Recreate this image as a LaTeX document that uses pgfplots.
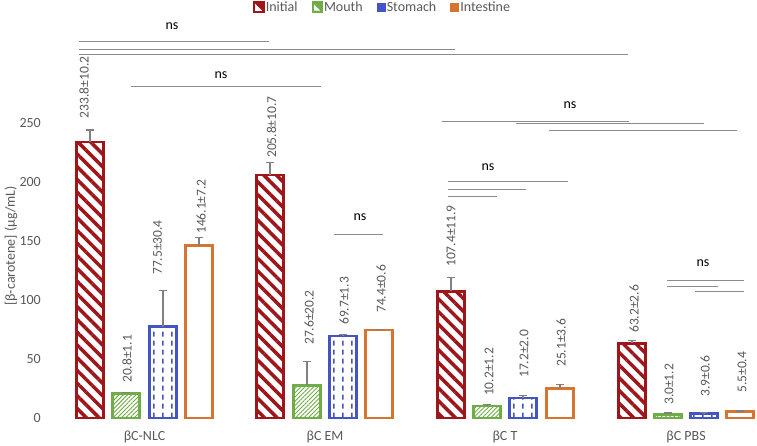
\documentclass[border=0pt]{standalone}
\usepackage{pgfplots}
\pgfplotsset{compat=1.18}
\usepackage{fontspec}
\setmainfont{Carlito}
\usetikzlibrary{patterns.meta}
\definecolor{initc}{RGB}{158,22,26}
\definecolor{mouthc}{RGB}{112,173,71}
\definecolor{stomc}{RGB}{68,84,196}
\definecolor{intc}{RGB}{214,116,48}
\definecolor{textgray}{RGB}{89,89,89}
\definecolor{linegray}{RGB}{128,128,128}
\definecolor{siggray}{RGB}{140,140,140}
\pgfdeclarepattern{
  name=vdash,
  type=uncolored,
  bottom left={\pgfpoint{0pt}{0pt}},
  top right={\pgfpoint{9pt}{9pt}},
  tile size={\pgfpoint{9pt}{9pt}},
  code={
    \pgfsetlinewidth{1.7pt}
    \pgfpathmoveto{\pgfpoint{1pt}{1.5pt}}
    \pgfpathlineto{\pgfpoint{1pt}{7pt}}
    \pgfusepath{stroke}
  }
}
\tikzset{
  sig/.style={draw=siggray, line width=0.9pt},
  vlab/.style={rotate=90, anchor=west, inner sep=0pt, font=\fontsize{13.5}{15}\selectfont, text=textgray},
  nslab/.style={inner sep=0pt, font=\fontsize{14}{16}\selectfont, text=black},
}
\pgfplotsset{
  errstyle/.style={
    error bars/.cd, y dir=plus, y explicit,
    error bar style={line width=1.2pt, color=linegray},
    error mark options={rotate=90, mark size=4pt, line width=1.2pt, color=linegray},
  },
}
\begin{document}
\begin{tikzpicture}
\begin{axis}[
  at={(45pt,28pt)}, anchor=south west,
  scale only axis, width=712pt, height=418pt,
  xmin=45, xmax=757, ymin=0, ymax=354.24,
  clip=false,
  axis line style={draw=none},
  major tick length=0pt,
  ytick={0,50,100,150,200,250},
  xtick={144.5,325,505,686},
  xticklabels={βC-NLC, βC EM, βC T, βC PBS},
  tick label style={font=\fontsize{14}{16}\selectfont, text=textgray},
  /pgf/number format/assume math mode=true,
  yticklabel style={anchor=east, inner sep=0pt, xshift=-4pt},
  xticklabel style={anchor=center, inner sep=0pt, yshift=-19pt},
  legend columns=4,
  legend style={draw=none, fill=none, inner sep=0pt, at={(axis cs:253,348.3)}, anchor=west,
    font=\fontsize{14}{16}\selectfont, text=textgray,
    nodes={inner sep=1pt},
    /tikz/every even column/.append style={column sep=13pt}},
]
\addplot[ybar, bar width=27pt, bar shift=0pt, draw=initc, line width=2.6pt,
  pattern={Lines[angle=-45,distance=9pt,line width=3.5pt]}, pattern color=initc,
  legend image code/.code={
    \fill[initc] (0pt,-4.5pt) rectangle (9pt,4.5pt);
    \fill[white] (2pt,-2.5pt) -- (4.5pt,-2.5pt) -- (2pt,0pt) -- cycle;},
  errstyle]
table[x=x, y=y, y error=e] {
x y e
90 233.8 10.2
270 205.8 10.7
451 107.4 11.9
632 63.2 2.6
};
\addlegendentry{Initial}
\addplot[ybar, bar width=27pt, bar shift=0pt, draw=mouthc, line width=2.4pt,
  pattern={Lines[angle=45,distance=3pt,line width=0.9pt]}, pattern color=mouthc,
  legend image code/.code={
    \fill[mouthc] (0pt,-4.5pt) rectangle (9pt,4.5pt);
    \fill[white] (2.5pt,-2.5pt) -- (4.5pt,-2.5pt) -- (2.5pt,-0.5pt) -- cycle;},
  errstyle]
table[x=x, y=y, y error=e] {
x y e
126 20.8 1.1
307 27.6 20.2
487 10.2 1.2
668 3.0 1.2
};
\addlegendentry{Mouth}
\addplot[ybar, bar width=27pt, bar shift=0pt, draw=stomc, line width=2.4pt,
  pattern=vdash, pattern color=stomc,
  legend image code/.code={
    \draw[stomc, line width=2pt] (1pt,-3.5pt) rectangle (8pt,3.5pt);},
  errstyle]
table[x=x, y=y, y error=e] {
x y e
163 77.5 30.4
343 69.7 1.3
523 17.2 2.0
704 3.9 0.6
};
\addlegendentry{Stomach}
\addplot[ybar, bar width=27pt, bar shift=0pt, draw=intc, line width=2.4pt, fill=white,
  legend image code/.code={
    \draw[intc, line width=2pt] (1pt,-3.5pt) rectangle (8pt,3.5pt);},
  errstyle]
table[x=x, y=y, y error=e] {
x y e
199 146.1 7.2
379 74.4 0.6
560 25.1 3.6
740 5.5 0.4
};
\addlegendentry{Intestine}

% value labels
\node[vlab] at (axis cs:84,254.0) {233.8±10.2};
\node[vlab] at (axis cs:127,29.7) {20.8±1.1};
\node[vlab] at (axis cs:157.5,121.2) {77.5±30.4};
\node[vlab] at (axis cs:201,155.9) {146.1±7.2};
\node[vlab] at (axis cs:271.5,220.3) {205.8±10.7};
\node[vlab] at (axis cs:309,61.9) {27.6±20.2};
\node[vlab] at (axis cs:344,78.8) {69.7±1.3};
\node[vlab] at (axis cs:381,89.0) {74.4±0.6};
\node[vlab] at (axis cs:451,128.0) {107.4±11.9};
\node[vlab] at (axis cs:489,18.6) {10.2±1.2};
\node[vlab] at (axis cs:524,33.9) {17.2±2.0};
\node[vlab] at (axis cs:561,43.2) {25.1±3.6};
\node[vlab] at (axis cs:634,72.0) {63.2±2.6};
\node[vlab] at (axis cs:669,11.0) {3.0±1.2};
\node[vlab] at (axis cs:705,17.8) {3.9±0.6};
\node[vlab] at (axis cs:742,21.2) {5.5±0.4};

% significance annotations
\draw[sig] (axis cs:79,319.5) -- (axis cs:269,319.5);
\draw[sig] (axis cs:79,312.7) -- (axis cs:455,312.7);
\draw[sig] (axis cs:79,308.5) -- (axis cs:628,308.5);
\node[nslab] at (axis cs:172,332.2) {ns};
\draw[sig] (axis cs:131,280.8) -- (axis cs:321,280.8);
\node[nslab] at (axis cs:221,290.7) {ns};
\draw[sig] (axis cs:334,155.9) -- (axis cs:383,155.9);
\node[nslab] at (axis cs:360,170.3) {ns};
\draw[sig] (axis cs:442,251.7) -- (axis cs:629,251.7);
\draw[sig] (axis cs:516,249.2) -- (axis cs:704,249.2);
\draw[sig] (axis cs:549,244.1) -- (axis cs:737,244.1);
\node[nslab] at (axis cs:570,265.3) {ns};
\draw[sig] (axis cs:448,200.8) -- (axis cs:568,200.8);
\draw[sig] (axis cs:448,194.1) -- (axis cs:526,194.1);
\draw[sig] (axis cs:448,188.1) -- (axis cs:497,188.1);
\node[nslab] at (axis cs:488,212.7) {ns};
\draw[sig] (axis cs:667,116.9) -- (axis cs:744,116.9);
\draw[sig] (axis cs:667,111.9) -- (axis cs:718,111.9);
\draw[sig] (axis cs:695,107.6) -- (axis cs:744,107.6);
\node[nslab] at (axis cs:703,131.4) {ns};

% y label
\node[rotate=90, inner sep=0pt, font=\fontsize{14}{16}\selectfont, text=textgray] at (axis cs:11,145.8) {[β-carotene] (µg/mL)};

\coordinate (bbsw) at (axis cs:0,-23.729);
\coordinate (bbne) at (axis cs:757,354.24);
\end{axis}
\pgfresetboundingbox
\path[use as bounding box] (bbsw) rectangle (bbne);
\end{tikzpicture}
\end{document}
